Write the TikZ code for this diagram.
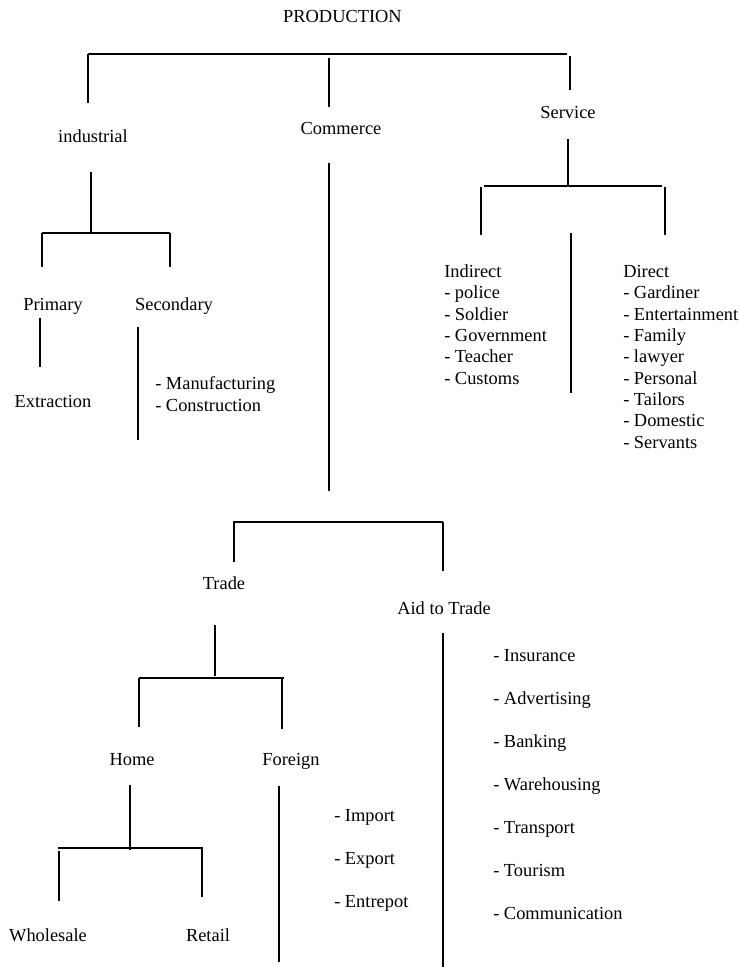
\documentclass[tikz,border=0pt]{standalone}
\usepackage{fontspec}
\setmainfont{Liberation Serif}
\usepackage{tikz}
\tikzset{
  lbl/.style={inner sep=0pt,anchor=base,font=\fontsize{13.8}{16}\selectfont},
  lst/.style={lbl,anchor=base west,align=left},
  wlst/.style={lst,font=\fontsize{13.8}{32.25}\selectfont},
  ln/.style={line width=1.2pt},
  barln/.style={line width=1.5pt},
}

\begin{document}
\begin{tikzpicture}[x=0.75pt,y=-0.75pt]
  \useasboundingbox (0,0) rectangle (739,967);
  % labels (lists are placed at the baseline of their last line)
  \node[lbl] (prod) at (342.5,22) {PRODUCTION};
  \node[lbl] (ind) at (93,142) {industrial};
  \node[lbl] (com) at (341,134) {Commerce};
  \node[lbl] (ser) at (568,118) {Service};
  \node[lbl] (pri) at (53,310) {Primary};
  \node[lbl] (sec) at (174,310) {Secondary};
  \node[lbl] (ext) at (53,407) {Extraction};
  \node[lst] (man) at (155,411) {- Manufacturing\\- Construction};
  \node[lst] (indir) at (444,384) {Indirect\\- police\\- Soldier\\- Government\\- Teacher\\- Customs};
  \node[lst] (dir) at (623,448) {Direct\\- Gardiner\\- Entertainment\\- Family\\- lawyer\\- Personal\\- Tailors\\- Domestic\\- Servants};
  \node[lbl] (tra) at (224,589) {Trade};
  \node[lbl] (aid) at (444,614) {Aid to Trade};
  \node[wlst] (aidl) at (493,919) {- Insurance\\- Advertising\\- Banking\\- Warehousing\\- Transport\\- Tourism\\- Communication};
  \node[lbl] (hom) at (132,765) {Home};
  \node[lbl] (for) at (291,765) {Foreign};
  \node[wlst] (forl) at (334,907) {- Import\\- Export\\- Entrepot};
  \node[lbl] (who) at (48,941) {Wholesale};
  \node[lbl] (ret) at (208,941) {Retail};

  % bar ends and line ends
  \coordinate (p-l) at (88,54);   \coordinate (p-r) at (567,54);
  \coordinate (p-lb) at (88,103);
  \coordinate (p-m) at (329,58);  \coordinate (p-mb) at (329,107);
  \coordinate (p-rt) at (570,56); \coordinate (p-rb) at (570,90);

  \coordinate (i-t) at (91,172);  \coordinate (i-b) at (91,233);
  \coordinate (i-l) at (42,233);  \coordinate (i-r) at (170,233);
  \coordinate (i-lb) at (42,267); \coordinate (i-rb) at (170,267);
  \coordinate (pr-t) at (40,318); \coordinate (pr-b) at (40,367);
  \coordinate (se-t) at (138,327); \coordinate (se-b) at (138,440);

  \coordinate (c-t) at (329,163); \coordinate (c-b) at (329,491);

  \coordinate (s-t) at (568,139); \coordinate (s-b) at (568,186);
  \coordinate (s-l) at (484,186); \coordinate (s-r) at (662,186);
  \coordinate (s-lb) at (481,235); \coordinate (s-rb) at (665,235);
  \coordinate (s-mt) at (571,233); \coordinate (s-mb) at (571,393);

  \coordinate (t-l) at (233,522); \coordinate (t-r) at (443,522);
  \coordinate (t-lb) at (234,562); \coordinate (t-rb) at (443,571);
  \coordinate (tr-t) at (215,625); \coordinate (tr-b) at (215,676);
  \coordinate (h-l) at (139,678); \coordinate (h-r) at (284,678);
  \coordinate (h-lb) at (139,727); \coordinate (h-rb) at (282,729);
  \coordinate (a-t) at (443,633); \coordinate (a-b) at (443,967);

  \coordinate (ho-t) at (130,785); \coordinate (ho-b) at (130,850);
  \coordinate (w-l) at (58,848);  \coordinate (w-r) at (203,848);
  \coordinate (w-lb) at (59,901); \coordinate (w-rb) at (202,897);
  \coordinate (f-t) at (279,786); \coordinate (f-b) at (279,962);

  % connectors
  \draw[barln] (p-l) -- (p-r);
  \draw[ln] (p-l) -- (p-lb);
  \draw[ln] (p-m) -- (p-mb);
  \draw[ln] (p-rt) -- (p-rb);

  \draw[ln] (i-t) -- (i-b);
  \draw[barln] (i-l) -- (i-r);
  \draw[ln] (i-l) -- (i-lb);
  \draw[ln] (i-r) -- (i-rb);
  \draw[ln] (pr-t) -- (pr-b);
  \draw[ln] (se-t) -- (se-b);

  \draw[ln] (c-t) -- (c-b);

  \draw[ln] (s-t) -- (s-b);
  \draw[barln] (s-l) -- (s-r);
  \draw[ln] ([yshift=-1pt]s-l -| s-lb) -- (s-lb);
  \draw[ln] ([yshift=-1pt]s-r -| s-rb) -- (s-rb);
  \draw[ln] (s-mt) -- (s-mb);

  \draw[barln] (t-l) -- (t-r);
  \draw[ln] (t-l -| t-lb) -- (t-lb);
  \draw[ln] (t-r) -- (t-rb);
  \draw[ln] (tr-t) -- (tr-b);
  \draw[barln] (h-l) -- (h-r);
  \draw[ln] (h-l) -- (h-lb);
  \draw[ln] (h-r -| h-rb) -- (h-rb);
  \draw[ln] (a-t) -- (a-b);

  \draw[ln] (ho-t) -- (ho-b);
  \draw[barln] (w-l) -- (w-r);
  \draw[ln] ([yshift=-2pt]w-l -| w-lb) -- (w-lb);
  \draw[ln] (w-r -| w-rb) -- (w-rb);
  \draw[ln] (f-t) -- (f-b);
\end{tikzpicture}
\end{document}
